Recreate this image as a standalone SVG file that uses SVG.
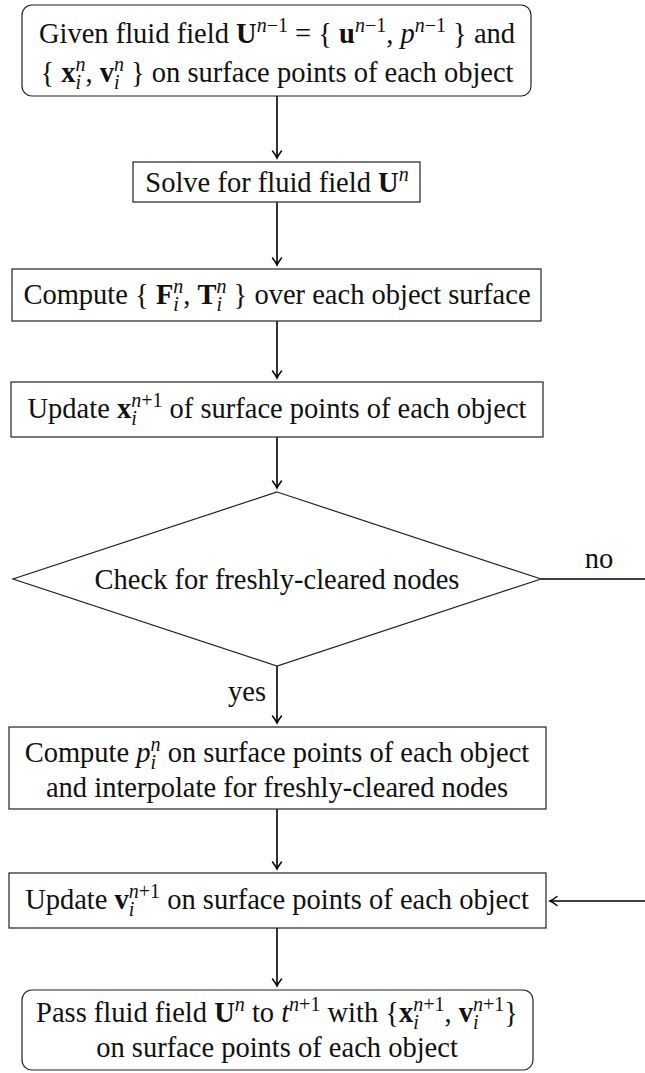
<svg xmlns="http://www.w3.org/2000/svg" width="645" height="1073" viewBox="0 0 645 1073" font-family="'Liberation Serif', 'DejaVu Serif', serif">
<style>
.bx{fill:#fff;stroke:#222;stroke-width:1.2}
.cn{fill:none;stroke:#000;stroke-width:1.6}
text{font-family:'Liberation Serif','DejaVu Serif',serif;font-size:28.5px;fill:#111}
.b{font-weight:bold}
.it{font-style:italic}
.s{font-size:20px}
</style>
<defs>
<marker id="ar" markerUnits="userSpaceOnUse" markerWidth="12" markerHeight="12" refX="0" refY="0" viewBox="-8 -6 10 12" orient="auto" overflow="visible">
<path d="M-7,-4.5 Q-2.5,-1 0,0 Q-2.5,1 -7,4.5" fill="none" stroke="#000" stroke-width="1.5" stroke-linecap="round"/>
</marker>
</defs>
<rect width="645" height="1073" fill="#fff"/>
<g id="connectors">
<line class="cn" x1="277" y1="96" x2="277" y2="158" marker-end="url(#ar)"/>
<line class="cn" x1="277" y1="202" x2="277" y2="265" marker-end="url(#ar)"/>
<line class="cn" x1="277" y1="321" x2="277" y2="378" marker-end="url(#ar)"/>
<line class="cn" x1="277" y1="437" x2="277" y2="488" marker-end="url(#ar)"/>
<line class="cn" x1="541" y1="579" x2="645" y2="579"/>
<line class="cn" x1="277" y1="666" x2="277" y2="723" marker-end="url(#ar)"/>
<line class="cn" x1="277" y1="809" x2="277" y2="869" marker-end="url(#ar)"/>
<line class="cn" x1="645" y1="901" x2="550" y2="901" marker-end="url(#ar)"/>
<line class="cn" x1="277" y1="928" x2="277" y2="986" marker-end="url(#ar)"/>
<text x="599" y="568" text-anchor="middle">no</text>
<text x="266" y="701" text-anchor="end">yes</text>
</g>
<g id="start">
<rect class="bx" x="22" y="5" width="509" height="91" rx="10"/>
<text x="277" y="43" text-anchor="middle">Given fluid field <tspan class="b">U</tspan><tspan class="s" dy="-11"><tspan class="it">n</tspan>−1</tspan><tspan dy="11"> = { </tspan><tspan class="b">u</tspan><tspan class="s" dy="-11"><tspan class="it">n</tspan>−1</tspan><tspan dy="11">, </tspan><tspan class="it">p</tspan><tspan class="s" dy="-11"><tspan class="it">n</tspan>−1</tspan><tspan dy="11"> } and</tspan></text>
<text x="277" y="82" text-anchor="middle">{ <tspan class="b">x</tspan><tspan class="s it" dy="7">i</tspan><tspan class="s it" dx="-5.6" dy="-18">n</tspan><tspan dy="11">, </tspan><tspan class="b">v</tspan><tspan class="s it" dy="7">i</tspan><tspan class="s it" dx="-5.6" dy="-18">n</tspan><tspan dy="11"> } on surface points of each object</tspan></text>
</g>
<g id="solve">
<rect class="bx" x="133" y="162" width="287" height="40"/>
<text x="277" y="192" text-anchor="middle">Solve for fluid field <tspan class="b">U</tspan><tspan class="s it" dy="-11">n</tspan></text>
</g>
<g id="compute-forces">
<rect class="bx" x="12" y="269" width="529" height="52"/>
<text x="277" y="304" text-anchor="middle">Compute { <tspan class="b">F</tspan><tspan class="s it" dy="7">i</tspan><tspan class="s it" dx="-5.6" dy="-18">n</tspan><tspan dy="11">, </tspan><tspan class="b">T</tspan><tspan class="s it" dy="7">i</tspan><tspan class="s it" dx="-5.6" dy="-18">n</tspan><tspan dy="11"> } over each object surface</tspan></text>
</g>
<g id="update-x">
<rect class="bx" x="11" y="382" width="532" height="55"/>
<text x="277" y="418" text-anchor="middle">Update <tspan class="b">x</tspan><tspan class="s it" dy="7">i</tspan><tspan class="s" dx="-5.6" dy="-18"><tspan class="it">n</tspan>+1</tspan><tspan dy="11"> of surface points of each object</tspan></text>
</g>
<g id="check">
<polygon class="bx" points="277,492 541,579 277,666 13,579"/>
<text x="277" y="589" text-anchor="middle">Check for freshly-cleared nodes</text>
</g>
<g id="compute-p">
<rect class="bx" x="9" y="727" width="537" height="82"/>
<text x="277" y="762" text-anchor="middle">Compute <tspan class="it">p</tspan><tspan class="s it" dy="7">i</tspan><tspan class="s it" dx="-5.6" dy="-18">n</tspan><tspan dy="11"> on surface points of each object</tspan></text>
<text x="277" y="797" text-anchor="middle">and interpolate for freshly-cleared nodes</text>
</g>
<g id="update-v">
<rect class="bx" x="9" y="873" width="537" height="55"/>
<text x="277" y="909" text-anchor="middle">Update <tspan class="b">v</tspan><tspan class="s it" dy="7">i</tspan><tspan class="s" dx="-5.6" dy="-18"><tspan class="it">n</tspan>+1</tspan><tspan dy="11"> on surface points of each object</tspan></text>
</g>
<g id="pass">
<rect class="bx" x="22" y="990" width="511" height="80" rx="10"/>
<text x="277" y="1022" text-anchor="middle">Pass fluid field <tspan class="b">U</tspan><tspan class="s it" dy="-11">n</tspan><tspan dy="11"> to </tspan><tspan class="it">t</tspan><tspan class="s" dy="-11"><tspan class="it">n</tspan>+1</tspan><tspan dy="11"> with {</tspan><tspan class="b">x</tspan><tspan class="s it" dy="7">i</tspan><tspan class="s" dx="-5.6" dy="-18"><tspan class="it">n</tspan>+1</tspan><tspan dy="11">, </tspan><tspan class="b">v</tspan><tspan class="s it" dy="7">i</tspan><tspan class="s" dx="-5.6" dy="-18"><tspan class="it">n</tspan>+1</tspan><tspan dy="11">}</tspan></text>
<text x="277" y="1057" text-anchor="middle">on surface points of each object</text>
</g>
</svg>
